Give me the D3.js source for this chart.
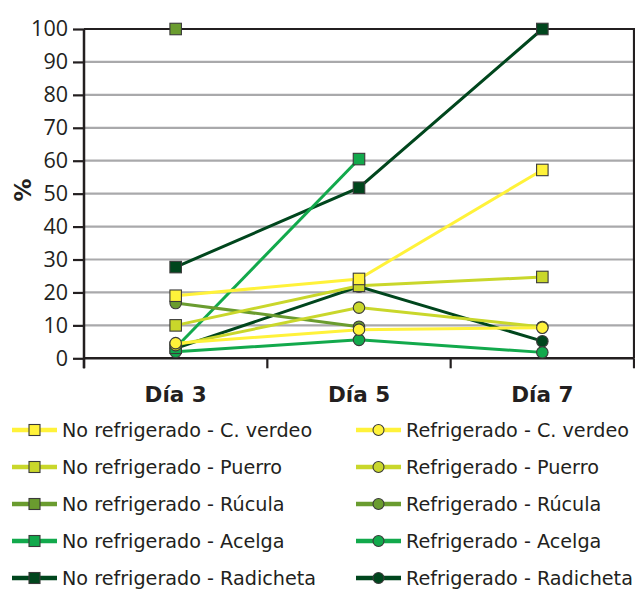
<!DOCTYPE html>
<html>
<head>
<meta charset="utf-8">
<script src="https://cdn.jsdelivr.net/npm/d3@7"></script>
<style>
  html, body { margin: 0; padding: 0; background: #fff; }
  svg { display: block; }
</style>
</head>
<body>
<svg id="chart" width="635" height="590"></svg>
<script>
// Sampling days
const days = ["Día 3", "Día 5", "Día 7"];

// Percentages per series (null = no measurement)
const noRefCVerdeo   = [19, 24.1, 57.2];
const refCVerdeo     = [4.6, 8.7, 9.3];
const noRefPuerro    = [10, 22, 24.7];
const refPuerro      = [4, 15.4, 9.5];
const noRefRucula    = [100, null, null];
const refRucula      = [16.8, 9.6, null];
const noRefAcelga    = [3.2, 60.5, null];
const refAcelga      = [2, 5.6, 1.8];
const noRefRadicheta = [27.7, 51.8, 100];
const refRadicheta   = [3, 21.8, 5.2];

const yTicks = [0, 10, 20, 30, 40, 50, 60, 70, 80, 90, 100];

const colYellow = "#fff23a", colLime = "#c9d72b", colOlive = "#6a9c2f",
      colGreen = "#12a94c", colDark = "#00461d";

// Legend order (row by row, two columns)
const series = [
  { name: "No refrigerado - C. verdeo",  values: noRefCVerdeo,   color: colYellow, shape: "square" },
  { name: "Refrigerado - C. verdeo",     values: refCVerdeo,     color: colYellow, shape: "circle" },
  { name: "No refrigerado - Puerro",     values: noRefPuerro,    color: colLime,   shape: "square" },
  { name: "Refrigerado - Puerro",        values: refPuerro,      color: colLime,   shape: "circle" },
  { name: "No refrigerado - Rúcula",     values: noRefRucula,    color: colOlive,  shape: "square" },
  { name: "Refrigerado - Rúcula",        values: refRucula,      color: colOlive,  shape: "circle" },
  { name: "No refrigerado - Acelga",     values: noRefAcelga,    color: colGreen,  shape: "square" },
  { name: "Refrigerado - Acelga",        values: refAcelga,      color: colGreen,  shape: "circle" },
  { name: "No refrigerado - Radicheta",  values: noRefRadicheta, color: colDark,   shape: "square" },
  { name: "Refrigerado - Radicheta",     values: refRadicheta,   color: colDark,   shape: "circle" }
];

const svg = d3.select("#chart");
const plotLeft = 84, plotRight = 634, plotTop = 29, plotBottom = 358.3;

const x = d3.scaleBand().domain(days).range([plotLeft, plotRight]).padding(0);
const y = d3.scaleLinear().domain([0, 100]).range([plotBottom, plotTop]);
const cx = d => x(d) + x.bandwidth() / 2;

// Horizontal gridlines
svg.append("g").selectAll("line")
  .data(yTicks.filter(t => t > 0 && t < 100))
  .join("line")
  .attr("x1", plotLeft).attr("x2", plotRight)
  .attr("y1", d => y(d)).attr("y2", d => y(d))
  .attr("stroke", "#a9a9ab").attr("stroke-width", 2.2);

// Plot frame: top and right edges
svg.append("path")
  .attr("d", `M${plotLeft},${y(100)}H${plotRight}V${plotBottom}`)
  .attr("fill", "none").attr("stroke", "#231f20").attr("stroke-width", 2.2);

// Y axis
const yAxis = svg.append("g")
  .attr("transform", `translate(${plotLeft},0)`)
  .call(d3.axisLeft(y).tickValues(yTicks).tickSize(11).tickPadding(5).tickSizeOuter(0));
yAxis.select(".domain").attr("stroke", "#231f20").attr("stroke-width", 2.5)
  .attr("d", `M0,${plotBottom + 10}V${plotTop}`);
yAxis.selectAll(".tick line").attr("stroke", "#231f20").attr("stroke-width", 2.2);
yAxis.selectAll(".tick text")
  .attr("font-family", "'Open Sans', sans-serif").attr("font-size", 21.5)
  .attr("fill", "#231f20");

// X axis baseline, boundary ticks and labels
svg.append("line")
  .attr("x1", plotLeft).attr("x2", plotRight).attr("y1", plotBottom).attr("y2", plotBottom)
  .attr("stroke", "#231f20").attr("stroke-width", 2.5);
const bounds = days.map(d => x(d)).concat([x(days[days.length - 1]) + x.bandwidth()]);
svg.append("g").selectAll("line").data(bounds).join("line")
  .attr("x1", d => d).attr("x2", d => d)
  .attr("y1", plotBottom).attr("y2", plotBottom + 10)
  .attr("stroke", "#231f20").attr("stroke-width", 2.2);

const xAxis = svg.append("g")
  .attr("transform", `translate(0,${plotBottom})`)
  .call(d3.axisBottom(x).tickSize(0).tickPadding(28));
xAxis.select(".domain").remove();
xAxis.selectAll(".tick text")
  .attr("font-family", "'DejaVu Sans', sans-serif").attr("font-weight", "bold")
  .attr("font-size", 21.5).attr("fill", "#231f20");

// Y axis title
svg.append("text")
  .attr("transform", "translate(31,190) rotate(-90)")
  .attr("text-anchor", "middle")
  .attr("font-family", "'DejaVu Sans', sans-serif").attr("font-weight", "bold")
  .attr("font-size", 23).attr("fill", "#231f20")
  .text("%");

// Series: lines and markers, drawn so earlier legend entries sit on top
const line = d3.line()
  .defined(d => d.v !== null)
  .x(d => cx(d.day)).y(d => y(d.v));

function drawMarker(g, shape, color, px, py, size) {
  if (shape === "square") {
    g.append("rect")
      .attr("x", px - size / 2).attr("y", py - size / 2)
      .attr("width", size).attr("height", size)
      .attr("fill", color).attr("stroke", "#3a3a3a").attr("stroke-width", 1.1);
  } else {
    g.append("circle")
      .attr("cx", px).attr("cy", py).attr("r", size / 2)
      .attr("fill", color).attr("stroke", "#3a3a3a").attr("stroke-width", 1.1);
  }
}

const plot = svg.append("g");
series.slice().reverse().forEach(s => {
  const pts = days.map((day, i) => ({ day, v: s.values[i] }));
  const g = plot.append("g");
  g.append("path").datum(pts)
    .attr("d", line).attr("fill", "none")
    .attr("stroke", s.color).attr("stroke-width", 3);
  pts.filter(p => p.v !== null).forEach(p =>
    drawMarker(g, s.shape, s.color, cx(p.day), y(p.v), 11.5));
});

// Legend
const legendRows = [430, 467, 504, 541, 578];
const legendCols = [{ line: 12, text: 62 }, { line: 356, text: 406 }];
series.forEach((s, i) => {
  const col = legendCols[i % 2], ry = legendRows[Math.floor(i / 2)];
  const g = svg.append("g");
  g.append("line")
    .attr("x1", col.line).attr("x2", col.line + 45)
    .attr("y1", ry).attr("y2", ry)
    .attr("stroke", s.color).attr("stroke-width", 4.5);
  drawMarker(g, s.shape, s.color, col.line + 22.5, ry, 11);
  g.append("text")
    .attr("x", col.text).attr("y", ry + 7)
    .attr("font-family", "'DejaVu Sans', sans-serif").attr("font-size", 19.2)
    .attr("fill", "#231f20")
    .text(s.name);
});
</script>
</body>
</html>
